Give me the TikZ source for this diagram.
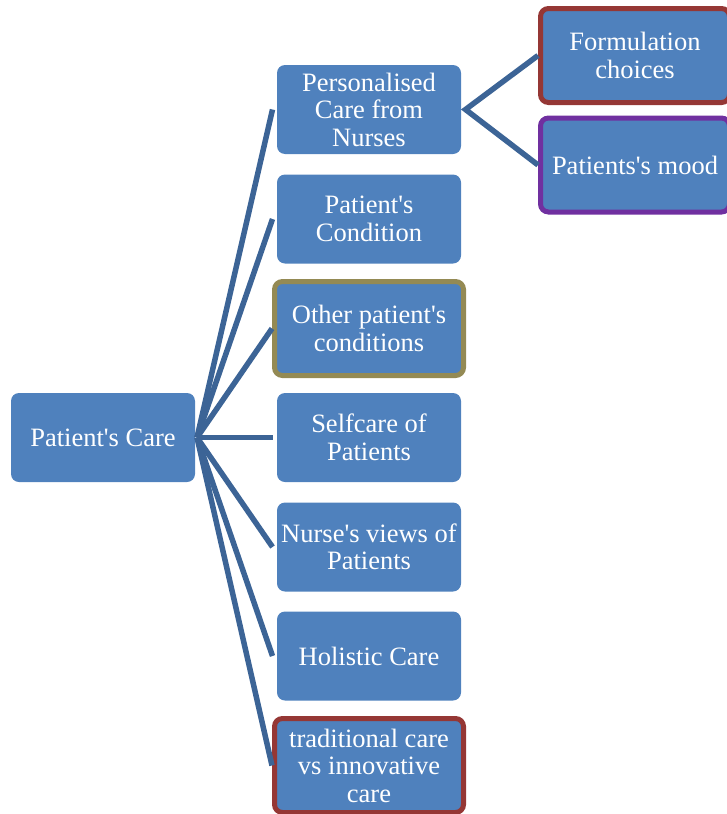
\documentclass[tikz,border=0pt]{standalone}
\usepackage{fontspec}
\setmainfont{Liberation Serif}
\usepackage{tikz}
\usetikzlibrary{
    positioning,
    arrows.meta
}
\definecolor{boxblue}{RGB}{79,129,189}
\definecolor{lineblue}{RGB}{60,100,150}
\definecolor{edgered}{RGB}{149,55,53}
\definecolor{edgepurple}{RGB}{112,48,160}
\definecolor{edgeolive}{RGB}{148,138,84}
\tikzset{
    topic/.style={
        rectangle,
        rounded corners=8pt,
        fill=boxblue,
        text=white,
        align=center,
        font=\fontsize{26.5}{27.5}\selectfont,
        minimum width=184pt,
        minimum height=89pt,
        inner sep=2pt,
        outer sep=4.5pt
    },
    framed/.style={
        topic,
        draw=#1,
        line width=5pt,
        minimum width=189pt,
        minimum height=94pt,
        outer sep=2.5pt
    },
    link/.style={
        draw=lineblue,
        line width=5.5pt
    }
}

\begin{document}
\begin{tikzpicture}[x=1pt, y=1pt]

    \useasboundingbox (0,0) rectangle (726,-814);

    % Nodos
    \node[topic, outer sep=2pt] (care) at (103,-437.5) {Patient\textquotesingle s Care};

    \node[topic] (nurses)    at (369,-109.5) {Personalised\\Care from\\Nurses};
    \node[topic] (cond)      at (369,-219)   {Patient\textquotesingle s\\Condition};
    \node[framed=edgeolive] (other) at (369,-328.5) {Other patient\textquotesingle s\\conditions};
    \node[topic] (selfcare)  at (369,-437.5) {Selfcare of\\Patients};
    \node[topic] (views)     at (369,-547)   {Nurse\textquotesingle s views of\\Patients};
    \node[topic] (holistic)  at (369,-656)   {Holistic Care};
    \node[framed=edgered] (trad) at (369,-765.5) {traditional care\\vs innovative\\care};

    \node[framed=edgered]    (formul) at (635,-55.5) {Formulation\\choices};
    \node[framed=edgepurple] (mood)   at (635,-165)  {Patients\textquotesingle s mood};

    % Conexiones
    \foreach \n in {nurses, cond, other, selfcare, views, holistic, trad}
        \draw[link] (care.east) -- (\n.west);

    \draw[link] (formul.west) -- (nurses.east) -- (mood.west);

\end{tikzpicture}
\end{document}
